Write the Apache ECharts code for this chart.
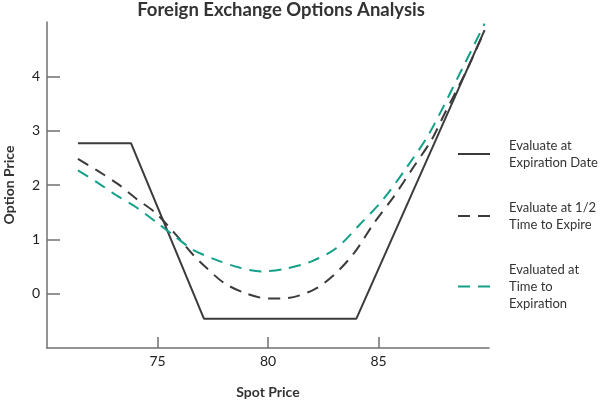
<!DOCTYPE html>
<html lang="en">
<head>
    <meta charset="UTF-8">
    <title>Foreign Exchange Options Analysis</title>
    <script src="https://cdn.jsdelivr.net/npm/echarts@6.0.0/dist/echarts.min.js"></script>
</head>
<body style="margin:0">
    <div id="main" style="width: 600px; height: 400px;"></div>
    <script>
        const myChart = echarts.init(document.getElementById('main'));

        // values
        const expiryX = [71.4, 73.8, 77.1, 84.0, 89.8];
        const expiryY = [2.77, 2.77, -0.46, -0.46, 4.85];

        const halfX = [71.4, 72.3, 73.2, 74.0, 74.9, 75.8, 76.6, 77.2, 78.0, 78.9, 80.0, 80.9, 82.1, 83.0, 83.9, 84.8, 85.7, 86.6, 87.4, 88.0, 89.0, 89.8];
        const halfY = [2.48, 2.26, 2.02, 1.76, 1.49, 1.10, 0.72, 0.48, 0.20, 0.02, -0.09, -0.08, 0.08, 0.35, 0.75, 1.30, 1.79, 2.34, 2.83, 3.32, 4.12, 4.84];

        const fullX = [71.4, 72.3, 73.1, 74.0, 74.9, 75.8, 76.6, 77.6, 78.7, 79.7, 80.8, 82.0, 83.1, 84.1, 85.2, 86.2, 87.3, 88.8, 89.8];
        const fullY = [2.27, 2.04, 1.82, 1.60, 1.33, 1.05, 0.81, 0.63, 0.48, 0.41, 0.46, 0.60, 0.84, 1.25, 1.73, 2.28, 2.95, 4.15, 4.97];

        const names = ['Evaluate at\nExpiration Date', 'Evaluate at 1/2\nTime to Expire', 'Evaluated at\nTime to\nExpiration'];
        const xTicks = [75, 80, 85];
        const yTicks = [0, 1, 2, 3, 4];

        function pairs(xs, ys) {
            return xs.map(function (x, i) { return [x, ys[i]]; });
        }

        const dark = '#3b3b3b';
        const teal = '#12a08a';
        const axisColor = '#707070';
        const font = 'Lato';
        const dash = [12, 8];

        const options = {
            backgroundColor: '#fff',
            animation: false,
            title: {
                text: 'Foreign Exchange Options Analysis',
                left: 281,
                top: 1,
                padding: 0,
                textAlign: 'center',
                textStyle: { fontFamily: font, fontSize: 18.5, fontWeight: 'bold', color: '#333' }
            },
            legend: {
                orient: 'vertical',
                left: 457,
                top: 137,
                padding: 0,
                itemWidth: 32,
                itemHeight: 14,
                itemGap: 28,
                itemStyle: { opacity: 0 },
                data: [
                    { name: names[0], lineStyle: { color: dark, width: 2, type: 'solid' } },
                    { name: names[1], lineStyle: { color: dark, width: 2, type: dash } },
                    { name: names[2], lineStyle: { color: teal, width: 2, type: dash } }
                ],
                textStyle: { fontFamily: font, fontSize: 13, lineHeight: 17, color: '#333', padding: [0, 0, 0, 14] }
            },
            grid: { left: 47, right: 111, top: 22, bottom: 52, outerBoundsMode: 'none' },
            xAxis: {
                type: 'value',
                min: 70,
                max: 90,
                name: 'Spot Price',
                nameLocation: 'middle',
                nameGap: 37,
                nameTextStyle: { fontFamily: font, fontSize: 14, fontWeight: 'bold', color: '#333' },
                axisLine: { onZero: false, lineStyle: { color: axisColor, width: 1.5 } },
                axisTick: { inside: true, length: 11, customValues: xTicks, lineStyle: { color: axisColor, width: 1.5 } },
                axisLabel: { customValues: xTicks, margin: 6, fontFamily: font, fontSize: 14, color: '#222' },
                splitLine: { show: false }
            },
            yAxis: {
                type: 'value',
                min: -1,
                max: 5,
                name: 'Option Price',
                nameLocation: 'middle',
                nameGap: 31,
                nameRotate: 90,
                nameTextStyle: { fontFamily: font, fontSize: 14, fontWeight: 'bold', color: '#333' },
                axisLine: { show: true, onZero: false, lineStyle: { color: axisColor, width: 1.5 } },
                axisTick: { show: true, inside: true, length: 13, customValues: yTicks, lineStyle: { color: axisColor, width: 1.5 } },
                axisLabel: { customValues: yTicks, margin: 7, fontFamily: font, fontSize: 14, color: '#222' },
                splitLine: { show: false }
            },
            series: [
                {
                    name: names[0],
                    type: 'line',
                    data: pairs(expiryX, expiryY),
                    symbol: 'none',
                    lineStyle: { color: dark, width: 2 },
                    itemStyle: { color: dark }
                },
                {
                    name: names[1],
                    type: 'line',
                    data: pairs(halfX, halfY),
                    symbol: 'none',
                    smooth: 0.3,
                    lineStyle: { color: dark, width: 2, type: dash },
                    itemStyle: { color: dark }
                },
                {
                    name: names[2],
                    type: 'line',
                    data: pairs(fullX, fullY),
                    symbol: 'none',
                    smooth: 0.3,
                    lineStyle: { color: teal, width: 2, type: dash },
                    itemStyle: { color: teal }
                }
            ]
        };

        myChart.setOption(options);
    </script>
</body>
</html>
